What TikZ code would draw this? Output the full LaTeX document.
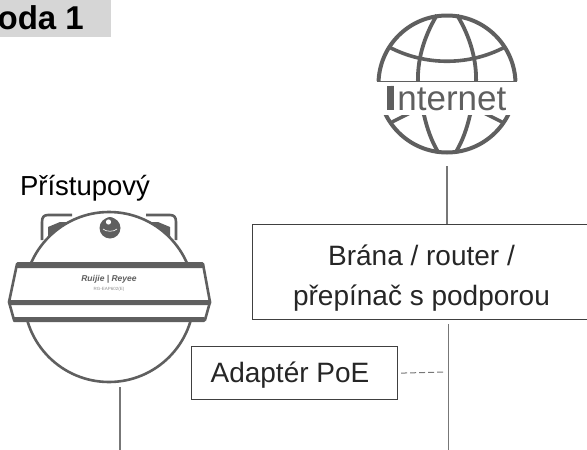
\documentclass[tikz,border=0pt]{standalone}
\usepackage{fontspec}
\setmainfont{Liberation Sans}
\definecolor{icon}{HTML}{5F5F5F}
\definecolor{txt}{HTML}{262626}
\definecolor{boxline}{HTML}{404040}
\definecolor{conn}{HTML}{777777}
\tikzset{
  labelbox/.style={draw=boxline,line width=1.2pt,fill=white,inner sep=0pt,anchor=north west},
  label/.style={inner sep=0pt,text=txt,font=\fontsize{28}{32}\selectfont,anchor=base},
  iconline/.style={draw=icon,line width=2.6pt,line join=round},
  conline/.style={draw=conn,line width=1.5pt},
}
\begin{document}
\begin{tikzpicture}[x=1pt,y=-1pt]
\useasboundingbox (0,0) rectangle (587,450);
% header
\node[fill=black!16,minimum width=111pt,minimum height=37pt,inner sep=0pt,anchor=north west] (hdr) at (0,0) {};
\begin{scope}
\clip (0,0) rectangle (111,37);
\node[inner sep=0pt,anchor=base east,font=\bfseries\fontsize{33}{38}\selectfont] (hdrtext) at (84,29) {oda 1};
\end{scope}
% globe
\begin{scope}
\clip (370,5) rectangle (525,81) (370,115) rectangle (525,160);
\draw[iconline,line width=4pt] (447,84) circle[radius=68.5];
\draw[iconline,line width=3.8pt] (437,15) .. controls (423,38) and (417,62) .. (418,84)
   .. controls (418,100) and (420,108) .. (424,115) .. controls (427,128) and (431,140) .. (438,152);
\draw[iconline,line width=3.8pt] (457,15) .. controls (471,38) and (477,62) .. (476,84)
   .. controls (476,100) and (474,108) .. (470,115) .. controls (467,128) and (463,140) .. (456,152);
\draw[iconline,line width=3.6pt] (389,47) .. controls (425,66) and (469,66) .. (505,47);
\draw[iconline,line width=3.4pt] (392,122) -- (410,113)  (502,122) -- (484,113);
\end{scope}
\draw[icon,line width=1pt] (377,81) -- (517,81);
\node[inner sep=0pt,anchor=base,text=icon,font=\fontsize{35}{40}\selectfont] (inet) at (447,110) {Internet};
\fill[icon] (387,86) rectangle (393,110);
\coordinate (inetdown) at (447,166);
% gateway box
\node[labelbox,minimum width=340pt,minimum height=95pt] (gw) at (252,224) {};
\draw[conline] (inetdown) -- (inetdown |- gw.north) ++(0,-6pt);
\node[label] (gw1) at (421.5,265) {Brána / router /};
\node[label] (gw2) at (421.5,305) {přepínač s podporou};
% PoE
\node[labelbox,minimum width=206pt,minimum height=53pt] (poe) at (191,346) {};
\node[label] (poetext) at (290,382) {Adaptér PoE};
\coordinate (gwdown) at (448.5,324);
\coordinate (gwend) at (448.5,450);
\draw[conline] (gwdown) -- (gwend);
\coordinate (dashend) at (444,372);
\draw[conn,line width=1pt,dash pattern=on 6pt off 3pt] (poe.east) ++(3pt,0) -- (dashend);
% access point
\node[inner sep=0pt,anchor=base,text=black,font=\fontsize{27.5}{32}\selectfont] (ap) at (85,195) {Přístupový};
\draw[iconline,fill=white] (42,240) -- (42,222) .. controls (42,217) and (44,215) .. (48,215) -- (72,215)
   (146,215) -- (170,215) .. controls (174,215) and (176,217) .. (176,222) -- (176,240);
\fill[icon] (48,227) -- (60,222) -- (75,222) -- (48,245) -- cycle;
\fill[icon] (170,227) -- (158,222) -- (143,222) -- (170,245) -- cycle;
\draw[iconline,fill=white,line width=2.6pt] (109,297) circle[radius=85];
\fill[icon] (110,228) circle[radius=10.5];
\fill[icon] (110,223) circle[radius=6];
\fill[white] (108.5,222) circle[radius=2.6];
\draw[white,line width=.6pt] (103,229) .. controls (106,232) and (114,232) .. (117,229);
\draw[iconline,fill=white,line width=2.6pt] (17,264) -- (203,264) -- (210,302) -- (205,320) -- (14,320) -- (9,302) -- cycle;
\fill[icon,rounded corners=1.5pt] (16,262) rectangle (204,268);
\fill[icon,rounded corners=1.5pt] (8,300) rectangle (211,305);
\fill[icon,rounded corners=1pt] (13,317) rectangle (205,322);
\node[inner sep=0pt,text=icon,font=\bfseries\itshape\fontsize{8.5}{10}\selectfont] (logo) at (109,279) {Ruijie | Reyee};
\node[inner sep=0pt,text=icon!70,font=\fontsize{4.5}{5}\selectfont] (model) at (109,289) {RG-EAP602(E)};
\coordinate (apdown) at (120,387);
\coordinate (apend) at (120,450);
\draw[conline] (apdown) -- (apend);
\end{tikzpicture}
\end{document}
